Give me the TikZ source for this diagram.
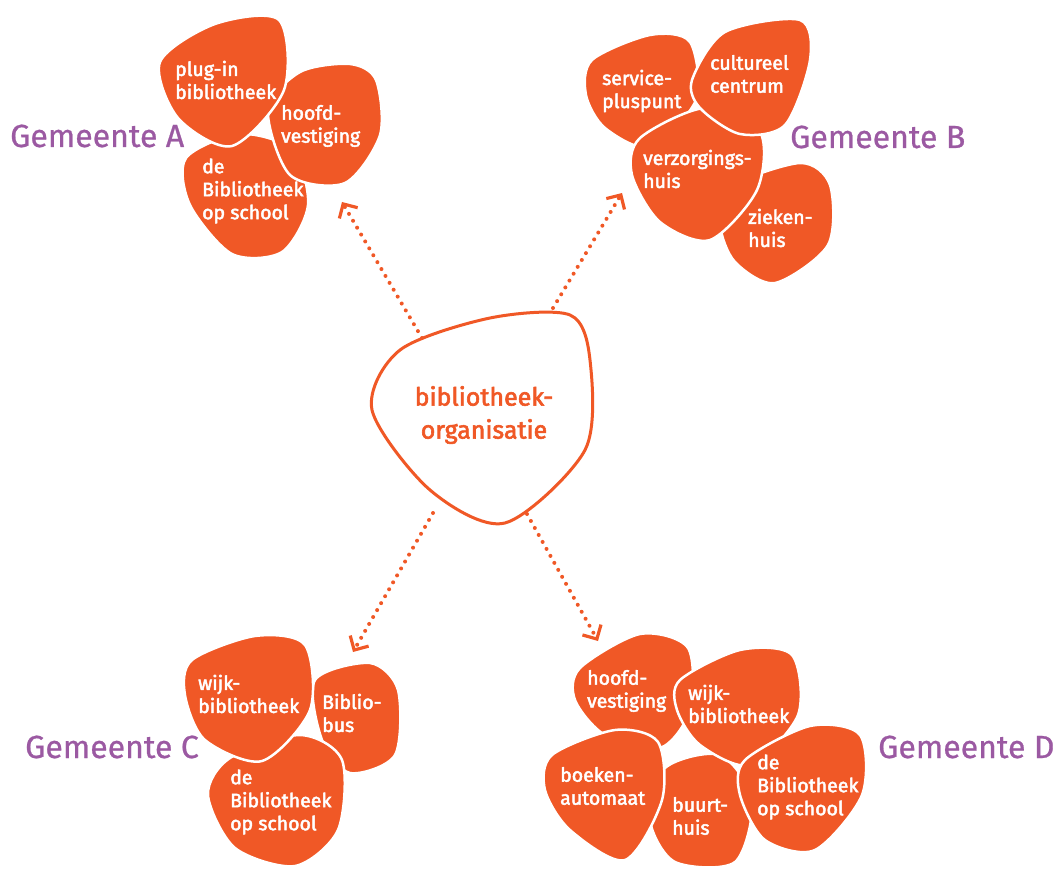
\documentclass[tikz,border=0pt]{standalone}
\usepackage{fontspec}
\setmainfont{Fira Sans}[FakeBold=0.8]
\newfontfamily\blobfont{Fira Sans}[FakeBold=2.4]
\usetikzlibrary{arrows.meta}
\usetikzlibrary{positioning}
\definecolor{orgorange}{RGB}{240,88,38}
\definecolor{gempurple}{RGB}{155,89,162}

\begin{document}
\begin{tikzpicture}[x=1pt,y=-1pt,
  blob/.style={fill=orgorange,draw=white,line width=2.5pt,line join=round},
  hub/.style={fill=white,draw=orgorange,line width=3pt},
  blobtext/.style={anchor=west,align=left,text=white,inner sep=0pt,font=\blobfont\fontsize{19.5}{23}\selectfont},
  gemeente/.style={anchor=base west,inner sep=0pt,text=gempurple,font=\fontsize{32}{38}\selectfont},
  link/.style={draw=orgorange,line width=4pt,line cap=round,dash pattern=on 0pt off 8pt,
    -{Straight Barb[angle=90:15pt,line width=3.2pt,line cap=butt,line join=miter]}}]
  \useasboundingbox (0,0) rectangle (1057,869);

  \draw[blob] plot[smooth cycle] coordinates {(186,158) (240,134) (292,150) (308,205) (282,252) (232,254) (190,205)};
  \draw[blob] plot[smooth cycle] coordinates {(268,110) (300,72) (350,64) (376,80) (380,135) (345,183) (290,175)};
  \draw[blob] plot[smooth cycle] coordinates {(160,62) (215,24) (279,20) (284,90) (232,146) (178,118)};
  \node[blobtext] (aplugin) at (175,80) {plug-in\\bibliotheek};
  \node[blobtext] (ahoofd) at (281,126) {hoofd-\\vestiging};
  \node[blobtext] (aschool) at (202,191) {de\\Bibliotheek\\op school};
  \node[gemeente] (gemA) at (10,147) {Gemeente A};

  \draw[blob] plot[smooth cycle] coordinates {(728,188) (800,163) (830,185) (828,245) (775,283) (735,262) (720,225)};
  \draw[blob] plot[smooth cycle] coordinates {(592,60) (650,35) (690,42) (696,100) (650,147) (605,128) (586,95)};
  \draw[blob] plot[smooth cycle] coordinates {(640,138) (705,108) (760,132) (757,190) (710,240) (660,222) (632,175)};
  \draw[blob] plot[smooth cycle] coordinates {(692,80) (725,32) (800,20) (810,60) (785,125) (740,134) (700,108)};
  \node[blobtext] (bservice) at (602,91) {service-\\pluspunt};
  \node[blobtext] (bcultureel) at (710,74) {cultureel\\centrum};
  \node[blobtext] (bverzorg) at (643,169) {verzorgings-\\huis};
  \node[blobtext] (bzieken) at (748,228) {zieken-\\huis};
  \node[gemeente] (gemB) at (790,148) {Gemeente B};

  \draw[blob] plot[smooth cycle] coordinates {(315,680) (370,663) (398,690) (395,755) (350,773) (322,740)};
  \draw[blob] plot[smooth cycle] coordinates {(230,758) (300,735) (342,760) (338,830) (295,866) (235,848) (208,795)};
  \draw[blob] plot[smooth cycle] coordinates {(192,660) (255,636) (305,645) (310,710) (262,761) (205,740) (185,695)};
  \node[blobtext] (cwijk) at (198,694) {wijk-\\bibliotheek};
  \node[blobtext] (cbus) at (322,713) {Biblio-\\bus};
  \node[blobtext] (cschool) at (230,802) {de\\Bibliotheek\\op school};
  \node[gemeente] (gemC) at (25,758) {Gemeente C};

  \draw[blob] plot[smooth cycle] coordinates {(580,668) (640,634) (688,648) (690,710) (660,748) (605,735) (575,700)};
  \draw[blob] plot[smooth cycle] coordinates {(665,768) (720,755) (752,800) (735,862) (675,862) (650,820)};
  \draw[blob] plot[smooth cycle] coordinates {(552,755) (615,730) (658,742) (662,800) (625,860) (570,830) (545,790)};
  \draw[blob] plot[smooth cycle] coordinates {(680,680) (740,650) (792,655) (798,715) (750,765) (700,745) (677,710)};
  \draw[blob] plot[smooth cycle] coordinates {(745,760) (810,726) (860,735) (862,795) (815,850) (765,840) (740,795)};
  \node[blobtext] (dhoofd) at (587,691) {hoofd-\\vestiging};
  \node[blobtext] (dwijk) at (688,704) {wijk-\\bibliotheek};
  \node[blobtext] (dboeken) at (560,786) {boeken-\\automaat};
  \node[blobtext] (dbuurt) at (672,816) {buurt-\\huis};
  \node[blobtext] (dschool) at (757,787) {de\\Bibliotheek\\op school};
  \node[gemeente] (gemD) at (878,758) {Gemeente D};

  \draw[hub] plot[smooth cycle] coordinates {(400,350) (490,318) (570,315) (590,360) (585,450) (505,523) (430,490) (372,410)};
  \node[align=center,text=orgorange,font=\blobfont\fontsize{25}{33}\selectfont] (org) at (484,415) {bibliotheek-\\organisatie};

  \coordinate (orgA) at (422,338);
  \coordinate (orgB) at (553,308);
  \coordinate (orgC) at (433,513);
  \coordinate (orgD) at (527,514);
  \coordinate (tipA) at (342,202);
  \coordinate (tipB) at (622,193);
  \coordinate (tipC) at (353,652);
  \coordinate (tipD) at (598,641);
  \draw[link] (orgA) -- (tipA);
  \draw[link] (orgB) -- (tipB);
  \draw[link] (orgC) -- (tipC);
  \draw[link] (orgD) -- (tipD);
\end{tikzpicture}
\end{document}
